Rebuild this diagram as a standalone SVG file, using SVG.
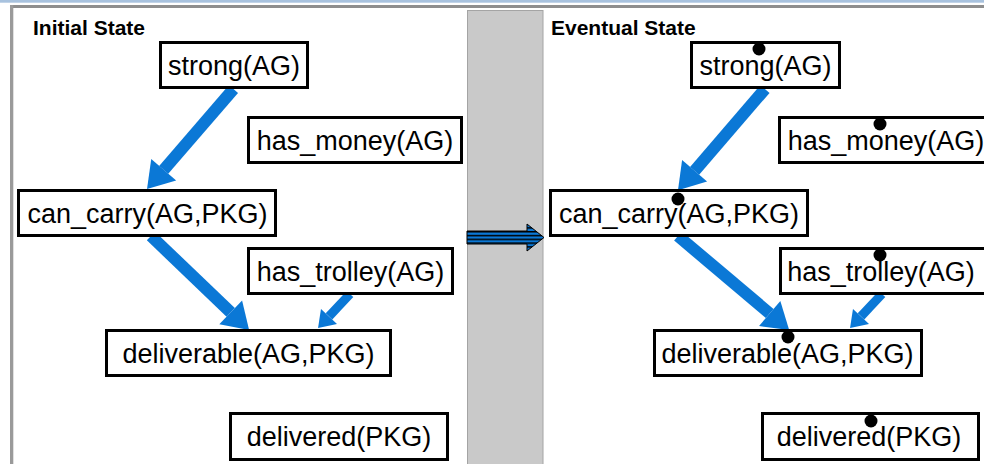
<svg xmlns="http://www.w3.org/2000/svg" width="984" height="464" viewBox="0 0 984 464">
  <defs>
    <style>
      .title { font-family: "Liberation Sans", Arial, sans-serif; font-weight: bold; font-size: 21px; fill: #000; }
      .node rect { fill: #fff; stroke: #000; stroke-width: 3; }
      .node text { font-family: "Liberation Sans", Arial, sans-serif; font-size: 27px; fill: #000; text-anchor: middle; }
      .dot { fill: #000; }
      .edge { stroke: #0b78d6; stroke-width: 12; fill: none; marker-end: url(#head); }
      .edge.small { stroke-width: 9; marker-end: url(#headSmall); }
    </style>
    <marker id="head" markerUnits="userSpaceOnUse" orient="auto" refX="0" refY="0" markerWidth="30" markerHeight="34" viewBox="0 -16 26 32" overflow="visible">
      <path d="M0,-15.5 L24,0 L0,15.5 Z" fill="#0b78d6"/>
    </marker>
    <marker id="headSmall" markerUnits="userSpaceOnUse" orient="auto" refX="0" refY="0" markerWidth="20" markerHeight="24" viewBox="0 -12 18 24" overflow="visible">
      <path d="M0,-11 L16,0 L0,11 Z" fill="#0b78d6"/>
    </marker>
    <pattern id="stripes" patternUnits="userSpaceOnUse" x="0" y="231" width="10" height="3.8">
      <rect width="10" height="3.8" fill="#0b78d6"/>
      <rect width="10" height="1.5" fill="#000"/>
    </pattern>
  </defs>

  <!-- window frame -->
  <rect x="0" y="0" width="984" height="464" fill="#fff"/>
  <rect x="0" y="0" width="984" height="2.7" fill="#a8c2de"/>
  <rect x="10" y="5" width="974" height="3" fill="#8e8e8e"/>
  <rect x="10" y="5" width="3.3" height="459" fill="#9a9a9a"/>

  <!-- separator panel with transition arrow -->
  <rect x="467.5" y="10.5" width="75.5" height="460" fill="#c9c9c9" stroke="#a4a4a4" stroke-width="1"/>
  <polygon points="467,231 527,231 527,224 544,237.5 527,251 527,244 467,244" fill="url(#stripes)" stroke="#000" stroke-width="1"/>

  <text class="title" x="33" y="35">Initial State</text>
  <text class="title" x="551" y="35">Eventual State</text>

  <!-- connectors -->
  <g id="connectors">
    <line class="edge" x1="233.5" y1="89" x2="163.7" y2="169.8"/>
    <line class="edge" x1="151" y1="236" x2="230.7" y2="312.4"/>
    <line class="edge small" x1="350" y1="294" x2="329" y2="316.4"/>
    <line class="edge" x1="765" y1="89" x2="694.6" y2="170.8"/>
    <line class="edge" x1="678" y1="236" x2="769.7" y2="313.5"/>
    <line class="edge small" x1="882" y1="294" x2="861" y2="316.4"/>
  </g>

  <!-- initial state nodes -->
  <g id="init-strong" class="node">
    <rect x="160.5" y="42.5" width="147" height="45"/>
    <text x="234" y="74.5">strong(AG)</text>
  </g>
  <g id="init-has-money" class="node">
    <rect x="248.5" y="117.5" width="213" height="45"/>
    <text x="355" y="149.5">has_money(AG)</text>
  </g>
  <g id="init-can-carry" class="node">
    <rect x="18.5" y="190.5" width="257" height="45"/>
    <text x="147.5" y="222.5">can_carry(AG,PKG)</text>
  </g>
  <g id="init-has-trolley" class="node">
    <rect x="248.5" y="248.5" width="204" height="45"/>
    <text x="350.5" y="280.5">has_trolley(AG)</text>
  </g>
  <g id="init-deliverable" class="node">
    <rect x="106.5" y="330.5" width="284" height="45"/>
    <text x="248.5" y="362.5">deliverable(AG,PKG)</text>
  </g>
  <g id="init-delivered" class="node">
    <rect x="230.5" y="413.5" width="217" height="46"/>
    <text x="339" y="446">delivered(PKG)</text>
  </g>

  <!-- eventual state nodes -->
  <g id="final-strong" class="node">
    <rect x="691.5" y="42.5" width="148" height="45"/>
    <text x="765.5" y="74.5">strong(AG)</text>
    <circle class="dot" cx="759" cy="49" r="6.5"/>
  </g>
  <g id="final-has-money" class="node">
    <rect x="779.5" y="117.5" width="213" height="45"/>
    <text x="886" y="149.5">has_money(AG)</text>
    <circle class="dot" cx="880" cy="124" r="6.5"/>
  </g>
  <g id="final-can-carry" class="node">
    <rect x="550.5" y="190.5" width="257" height="45"/>
    <text x="679" y="222.5">can_carry(AG,PKG)</text>
    <circle class="dot" cx="678" cy="199" r="6.5"/>
  </g>
  <g id="final-has-trolley" class="node">
    <rect x="780.5" y="248.5" width="208" height="45"/>
    <text x="881" y="280.5">has_trolley(AG)</text>
    <circle class="dot" cx="880" cy="255" r="6.5"/>
  </g>
  <g id="final-deliverable" class="node">
    <rect x="654.5" y="330.5" width="267" height="45"/>
    <text x="787.5" y="362.5">deliverable(AG,PKG)</text>
    <circle class="dot" cx="788" cy="337" r="6.5"/>
  </g>
  <g id="final-delivered" class="node">
    <rect x="762.5" y="413.5" width="216" height="46"/>
    <text x="869" y="446">delivered(PKG)</text>
    <circle class="dot" cx="871" cy="421" r="6.5"/>
  </g>
</svg>
